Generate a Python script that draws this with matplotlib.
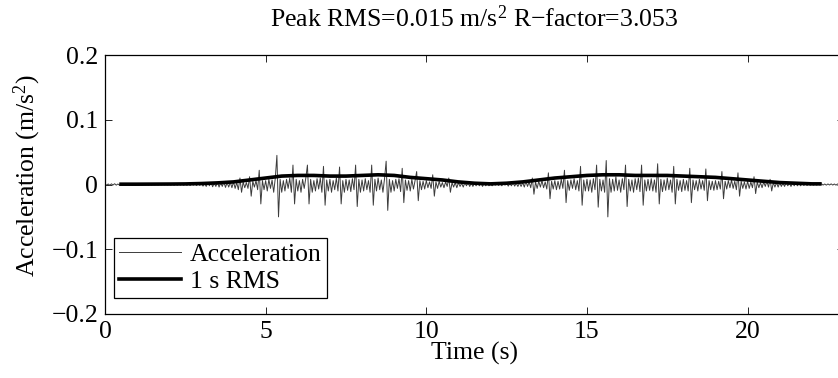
import numpy as np
import matplotlib
matplotlib.use("Agg")
import matplotlib.pyplot as plt

plt.rcParams['font.family'] = ['Liberation Serif', 'DejaVu Serif']
plt.rcParams['mathtext.fontset'] = 'custom'
plt.rcParams['mathtext.rm'] = 'Liberation Serif'
plt.rcParams['mathtext.it'] = 'Liberation Serif:italic'

dt = 0.05
accel = [
    # 0 s
    0.001, -0.001, 0.0008, -0.0012, 0.001, -0.0008, 0.0012, -0.001, 0.0008, -0.001,
    0.001, -0.0008, 0.0012, -0.001, 0.0008, -0.0012, 0.001, -0.0008, 0.001, -0.001,
    # 1 s
    0.0006, -0.0007, 0.0005, -0.0006, 0.0007, -0.0005, 0.0006, -0.0007, 0.0005, -0.0006,
    0.0007, -0.0005, 0.0006, -0.0007, 0.0005, -0.0006, 0.0007, -0.0005, 0.0006, -0.0007,
    # 2 s
    0.0008, -0.001, 0.0009, -0.0011, 0.0008, -0.001, 0.0012, -0.0009, 0.001, -0.0012,
    0.0011, -0.0013, 0.0009, -0.0015, 0.0012, -0.001, 0.0014, -0.0016, 0.0012, -0.0014,
    # 3 s
    0.002, -0.0025, 0.0015, -0.003, 0.0025, -0.002, 0.003, -0.0035, 0.002, -0.003,
    0.0035, -0.004, 0.0025, -0.003, 0.004, -0.0045, 0.003, -0.004, 0.0035, -0.005,
    # 4 s
    0.004, -0.006, 0.003, -0.008, 0.01, -0.012, 0.004, -0.005, 0.003, -0.006,
    0.012, -0.018, 0.005, -0.004, 0.006, -0.008, 0.022, -0.03, 0.006, -0.008,
    # 5 s
    0.006, -0.01, 0.008, -0.006, 0.007, -0.012, 0.01, 0.045, -0.05, 0.008,
    -0.012, 0.006, -0.01, 0.008, -0.006, 0.01, -0.012, 0.03, -0.03, 0.008,
    # 6 s
    -0.01, 0.006, -0.012, 0.008, -0.006, 0.01, 0.03, -0.03, 0.008, -0.012,
    0.006, -0.01, 0.009, -0.007, 0.01, -0.012, 0.028, -0.032, 0.007, -0.01,
    # 7 s
    0.008, -0.012, 0.006, -0.008, 0.01, -0.01, 0.027, -0.03, 0.006, -0.012,
    0.008, -0.009, 0.007, -0.011, 0.009, -0.008, 0.03, -0.034, 0.008, -0.012,
    # 8 s
    0.007, -0.01, 0.009, -0.008, 0.006, -0.012, 0.03, -0.032, 0.008, -0.01,
    0.01, -0.008, 0.007, -0.012, 0.009, 0.036, -0.04, 0.008, -0.012, 0.006,
    # 9 s
    -0.01, 0.008, -0.006, 0.009, -0.011, 0.025, -0.028, 0.007, -0.009, 0.006,
    -0.01, 0.008, -0.007, 0.006, 0.02, -0.025, 0.006, -0.008, 0.005, -0.007,
    # 10 s
    0.006, -0.005, 0.004, -0.006, 0.015, -0.018, 0.004, -0.006, 0.005, -0.004,
    0.003, -0.005, 0.004, -0.003, 0.01, -0.012, 0.003, -0.004, 0.003, -0.005,
    # 11 s
    0.003, -0.003, 0.002, -0.004, 0.003, -0.002, 0.003, -0.003, 0.002, -0.003,
    0.002, -0.002, 0.003, -0.002, 0.002, -0.003, 0.002, -0.002, 0.002, -0.002,
    # 12 s
    0.001, -0.002, 0.0015, -0.001, 0.002, -0.0015, 0.001, -0.002, 0.0015, -0.001,
    0.002, -0.0025, 0.0015, -0.002, 0.003, -0.0025, 0.002, -0.003, 0.0025, -0.003,
    # 13 s
    0.003, -0.004, 0.005, -0.003, 0.004, -0.005, 0.01, -0.015, 0.004, -0.006,
    0.005, -0.004, 0.006, -0.005, 0.004, -0.007, 0.018, -0.022, 0.005, -0.007,
    # 14 s
    0.006, -0.008, 0.005, -0.007, 0.008, -0.006, 0.022, -0.028, 0.006, -0.009,
    0.007, -0.006, 0.009, -0.008, 0.006, -0.01, 0.028, -0.032, 0.007, -0.01,
    # 15 s
    0.008, -0.01, 0.007, -0.012, 0.009, -0.008, 0.03, -0.035, 0.008, -0.01,
    0.007, -0.012, 0.037, -0.05, 0.009, -0.012, 0.008, -0.01, 0.012, -0.009,
    # 16 s
    0.007, -0.012, 0.009, -0.008, 0.03, -0.034, 0.008, -0.01, 0.007, -0.012,
    0.009, -0.008, 0.01, -0.011, 0.03, -0.032, 0.007, -0.01, 0.008, -0.009,
    # 17 s
    0.009, -0.01, 0.007, -0.012, 0.032, -0.03, 0.008, -0.011, 0.007, -0.009,
    0.01, -0.008, 0.007, -0.012, 0.028, -0.03, 0.008, -0.009, 0.006, -0.011,
    # 18 s
    0.008, -0.009, 0.006, -0.01, 0.025, -0.028, 0.007, -0.008, 0.006, -0.01,
    0.008, -0.007, 0.006, -0.009, 0.024, -0.025, 0.006, -0.008, 0.005, -0.009,
    # 19 s
    0.006, -0.008, 0.005, -0.007, 0.02, -0.022, 0.005, -0.007, 0.006, -0.005,
    0.007, -0.006, 0.005, -0.008, 0.018, -0.018, 0.005, -0.006, 0.004, -0.007,
    # 20 s
    0.005, -0.006, 0.004, -0.005, 0.012, -0.014, 0.004, -0.005, 0.003, -0.005,
    0.004, -0.003, 0.005, -0.004, 0.008, -0.01, 0.003, -0.004, 0.003, -0.004,
    # 21 s
    0.003, -0.003, 0.002, -0.003, 0.003, -0.002, 0.002, -0.003, 0.002, -0.002,
    0.002, -0.002, 0.0015, -0.002, 0.0015, -0.0015, 0.0012, -0.0015, 0.001, -0.0012,
    # 22 s - 23 s
    0.001, -0.001, 0.0008, -0.001, 0.0009, -0.0008, 0.001, -0.0009, 0.0008, -0.001,
    0.0009, -0.0008, 0.001, -0.0009, 0.0008, -0.001, 0.0009, -0.0008, 0.001, -0.0009, 0.0008,
]
time_accel = [round(i * dt, 3) for i in range(len(accel))]

time_rms = [0.5, 1.0, 1.5, 2.0, 2.5, 3.0, 3.5, 4.0, 4.5, 5.0, 5.5, 6.0, 6.5, 7.0,
            7.5, 8.0, 8.5, 9.0, 9.5, 10.0, 10.5, 11.0, 11.5, 12.0, 12.5, 13.0,
            13.5, 14.0, 14.5, 15.0, 15.5, 16.0, 16.5, 17.0, 17.5, 18.0, 18.5,
            19.0, 19.5, 20.0, 20.5, 21.0, 21.5, 22.0, 22.25]
rms = [0.0005, 0.0005, 0.0006, 0.0007, 0.0009, 0.0015, 0.0025, 0.004, 0.007,
       0.010, 0.013, 0.014, 0.014, 0.013, 0.013, 0.014, 0.015, 0.014, 0.011,
       0.009, 0.007, 0.004, 0.002, 0.001, 0.002, 0.004, 0.007, 0.010, 0.012,
       0.014, 0.015, 0.015, 0.014, 0.014, 0.014, 0.013, 0.012, 0.011, 0.009,
       0.007, 0.005, 0.003, 0.002, 0.001, 0.001]

xticks = [0, 5, 10, 15, 20]
yticks = [-0.2, -0.1, 0.0, 0.1, 0.2]
ytick_labels = ['\u22120.2', '\u22120.1', '0', '0.1', '0.2']
title = 'Peak RMS=0.015 m/s$^2$ R\u2212factor=3.053'

# --- figure ---
W, H = 838, 378
fig = plt.figure(figsize=(W / 100, H / 100), dpi=100)
ax_l, ax_r, ax_t, ax_b = 105, 844, 55, 314
ax = fig.add_axes([ax_l / W, 1 - ax_b / H, (ax_r - ax_l) / W, (ax_b - ax_t) / H])

ax.plot(time_accel, accel, color='#3c3c3c', lw=0.7, label='Acceleration')
ax.plot(time_rms, rms, color='black', lw=2.6, label='1 s RMS')

ax.set_xlim(0, 23)
ax.set_ylim(-0.2, 0.2)
ax.set_xticks(xticks)
ax.set_xticklabels([str(v) for v in xticks])
ax.set_yticks(yticks)
ax.set_yticklabels(ytick_labels)

fs = 18.5
ax.tick_params(direction='in', length=5, width=0.6, top=True, right=True,
               labelsize=fs, pad=5)
for s in ax.spines.values():
    s.set_linewidth(0.9)

ax.set_xlabel('Time (s)', fontsize=fs, labelpad=-1)
ax.set_ylabel('Acceleration (m/s$^2$)', fontsize=fs)
ax.yaxis.set_label_coords(-0.084, 0.535)
ax.set_title(title, fontsize=fs, pad=20)

leg = ax.legend(loc='lower left', bbox_to_anchor=(0.012, 0.062), fontsize=fs,
                frameon=True, fancybox=False, edgecolor='black', framealpha=1,
                borderaxespad=0, handlelength=2.4, handletextpad=0.35,
                borderpad=0.2, labelspacing=0.15)
leg.get_frame().set_linewidth(0.9)

fig.savefig('out.png', dpi=100)
